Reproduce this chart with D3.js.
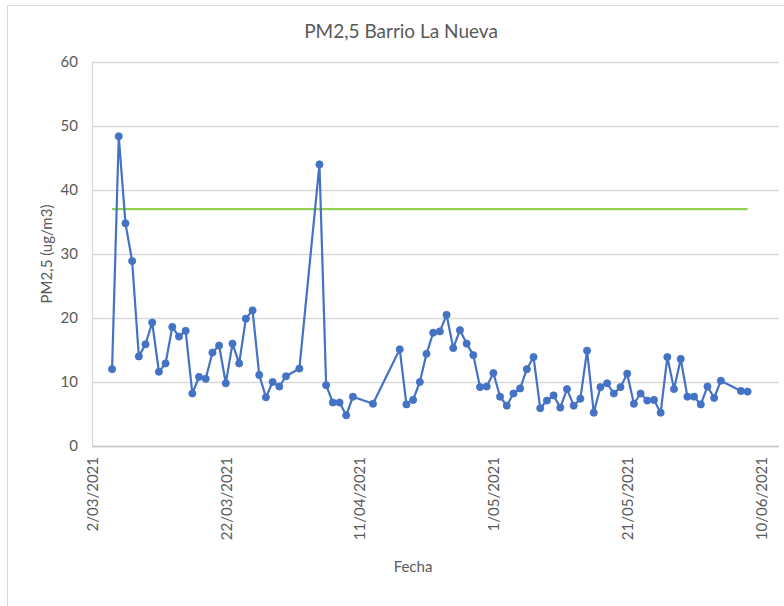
<!DOCTYPE html>
<html>
<head>
<meta charset="utf-8">
<script src="https://cdn.jsdelivr.net/npm/d3@7"></script>
<style>
  html, body { margin: 0; padding: 0; background: #fff; }
  svg { display: block; font-family: Lato, "Open Sans", sans-serif; }
</style>
</head>
<body>
<svg id="chart" width="784" height="606"></svg>
<script>
const chartTitle = "PM2,5 Barrio La Nueva";
const yTitle = "PM2,5 (ug/m3)";
const xTitle = "Fecha";

const dates = [
  "2021-03-05","2021-03-06","2021-03-07","2021-03-08","2021-03-09","2021-03-10","2021-03-11","2021-03-12","2021-03-13","2021-03-14",
  "2021-03-15","2021-03-16","2021-03-17","2021-03-18","2021-03-19","2021-03-20","2021-03-21","2021-03-22","2021-03-23","2021-03-24",
  "2021-03-25","2021-03-26","2021-03-27","2021-03-28","2021-03-29","2021-03-30","2021-03-31","2021-04-02","2021-04-05","2021-04-06",
  "2021-04-07","2021-04-08","2021-04-09","2021-04-10","2021-04-13","2021-04-17","2021-04-18","2021-04-19","2021-04-20","2021-04-21",
  "2021-04-22","2021-04-23","2021-04-24","2021-04-25","2021-04-26","2021-04-27","2021-04-28","2021-04-29","2021-04-30","2021-05-01",
  "2021-05-02","2021-05-03","2021-05-04","2021-05-05","2021-05-06","2021-05-07","2021-05-08","2021-05-09","2021-05-10","2021-05-11",
  "2021-05-12","2021-05-13","2021-05-14","2021-05-15","2021-05-16","2021-05-17","2021-05-18","2021-05-19","2021-05-20","2021-05-21",
  "2021-05-22","2021-05-23","2021-05-24","2021-05-25","2021-05-26","2021-05-27","2021-05-28","2021-05-29","2021-05-30","2021-05-31",
  "2021-06-01","2021-06-02","2021-06-03","2021-06-04","2021-06-07","2021-06-08"
];

const pm25 = [
  12.0, 48.4, 34.8, 28.9, 14.0, 15.9, 19.3, 11.6, 12.9, 18.6,
  17.1, 18.0, 8.2, 10.8, 10.5, 14.6, 15.7, 9.8, 16.0, 12.9,
  19.9, 21.2, 11.1, 7.6, 10.0, 9.3, 10.9, 12.1, 44.0, 9.5,
  6.8, 6.8, 4.8, 7.7, 6.6, 15.1, 6.5, 7.2, 10.0, 14.4,
  17.7, 17.9, 20.5, 15.3, 18.1, 16.0, 14.2, 9.2, 9.3, 11.4,
  7.7, 6.3, 8.2, 9.0, 12.0, 13.9, 5.9, 7.1, 7.9, 6.0,
  8.9, 6.3, 7.4, 14.9, 5.2, 9.2, 9.8, 8.2, 9.2, 11.3,
  6.6, 8.2, 7.1, 7.2, 5.2, 13.9, 8.9, 13.6, 7.7, 7.7,
  6.5, 9.3, 7.5, 10.2, 8.6, 8.5
];

const limitDates = ["2021-03-05", "2021-06-08"];
const limitValues = [37, 37];

const xTickLabels = ["2/03/2021","22/03/2021","11/04/2021","1/05/2021","21/05/2021","10/06/2021"];
const yTicks = [0, 10, 20, 30, 40, 50, 60];

(function () {
const parseISO = d3.timeParse("%Y-%m-%d");
const parseTick = d3.timeParse("%d/%m/%Y");
const fmtTick = d => `${d.getDate()}/${String(d.getMonth() + 1).padStart(2, "0")}/${d.getFullYear()}`;

const svg = d3.select("#chart");
const plotLeft = 92, plotTop = 62, plotBottom = 446, frameRight = 779, lastTickX = 761;

const tickDates = xTickLabels.map(parseTick);
const x = d3.scaleTime()
  .domain([tickDates[0], tickDates[tickDates.length - 1]])
  .range([plotLeft, lastTickX]);
const y = d3.scaleLinear().domain([0, 60]).range([plotBottom, plotTop]);

// chart border
svg.append("rect")
  .attr("x", 7.5).attr("y", 5.5)
  .attr("width", 800).attr("height", 620)
  .attr("fill", "#fff").attr("stroke", "#d9d9d9").attr("stroke-width", 1);

// gridlines + y labels
const yAxis = d3.axisLeft(y).tickValues(yTicks).tickSize(-(frameRight - plotLeft)).tickPadding(14).tickFormat(d3.format("d"));
const gy = svg.append("g").attr("transform", `translate(${plotLeft},0)`).call(yAxis);
gy.select(".domain").remove();
gy.selectAll(".tick line").attr("stroke", "#d9d9d9").attr("stroke-width", 1.3);
gy.selectAll(".tick text").attr("fill", "#595959").style("font-size", "15px").style("font-family", "Lato, sans-serif");

// left axis line
svg.append("line").attr("x1", plotLeft + 0.5).attr("x2", plotLeft + 0.5).attr("y1", plotTop).attr("y2", plotBottom)
  .attr("stroke", "#d9d9d9").attr("stroke-width", 1.3);

// x axis
const xAxis = d3.axisBottom(x).tickValues(tickDates).tickSize(0).tickFormat(fmtTick);
const gx = svg.append("g").attr("transform", `translate(0,${plotBottom})`).call(xAxis);
gx.select(".domain").remove();
gx.selectAll(".tick text")
  .attr("fill", "#595959").style("font-size", "15px").style("font-family", "Lato, sans-serif")
  .attr("text-anchor", "end")
  .attr("transform", "rotate(-90)")
  .attr("x", -11).attr("y", 0).attr("dy", "0.35em");
svg.append("line").attr("x1", plotLeft).attr("x2", frameRight).attr("y1", plotBottom + 0.5).attr("y2", plotBottom + 0.5)
  .attr("stroke", "#c8c8c8").attr("stroke-width", 1.3);

// limit line
const limitData = limitDates.map((d, i) => ({ date: parseISO(d), value: limitValues[i] }));
svg.append("path").datum(limitData)
  .attr("fill", "none").attr("stroke", "#92D050").attr("stroke-width", 2.2)
  .attr("d", d3.line().x(d => x(d.date)).y(d => y(d.value)));

// PM2.5 series
const data = dates.map((d, i) => ({ date: parseISO(d), value: pm25[i] }));
svg.append("path").datum(data)
  .attr("fill", "none").attr("stroke", "#4472C4").attr("stroke-width", 2.2).attr("stroke-linejoin", "round")
  .attr("d", d3.line().x(d => x(d.date)).y(d => y(d.value)));
svg.append("g").selectAll("circle").data(data).join("circle")
  .attr("cx", d => x(d.date)).attr("cy", d => y(d.value)).attr("r", 3.6)
  .attr("fill", "#4472C4").attr("stroke", "#4472C4").attr("stroke-width", 0.8);

// titles
svg.append("text").attr("x", 401).attr("y", 38).attr("text-anchor", "middle")
  .attr("fill", "#595959").style("font-size", "19px").text(chartTitle);
svg.append("text").attr("transform", `translate(52,${(plotTop + plotBottom) / 2}) rotate(-90)`)
  .attr("text-anchor", "middle").attr("fill", "#595959").style("font-size", "15px").text(yTitle);
svg.append("text").attr("x", 413).attr("y", 572).attr("text-anchor", "middle")
  .attr("fill", "#595959").style("font-size", "15px").text(xTitle);
})();
</script>
</body>
</html>
